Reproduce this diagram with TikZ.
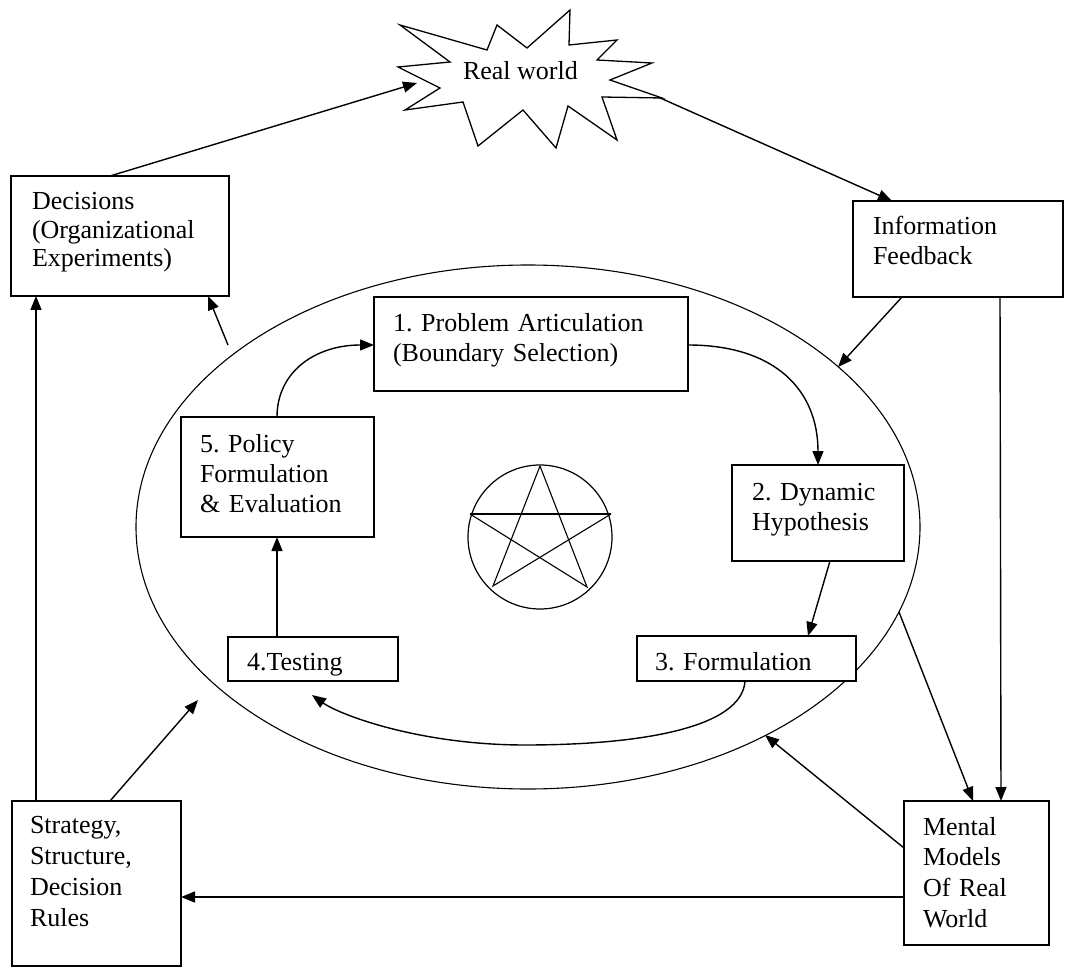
\documentclass[tikz,border=0pt]{standalone}
\usepackage{fontspec}
\setmainfont{Liberation Serif}
\usetikzlibrary{arrows.meta,calc}

\begin{document}
\frenchspacing
\begin{tikzpicture}[x=1pt,y=-1pt,
  box/.style={draw, line width=2pt, fill=white, inner sep=0pt, outer sep=0pt, anchor=north west},
  lbl/.style={inner sep=0pt, outer sep=0pt, anchor=base west, align=left, text width=230pt,
              font=\fontsize{26}{30}\selectfont},
  conn/.style={line width=1.4pt, -{Triangle[length=14pt,width=11pt]}},
  link/.style={line width=1.4pt}]
\useasboundingbox (0,0) rectangle (1066,968);

% outer ellipse of the modelling cycle
\draw[line width=1.1pt] (528,527) ellipse[x radius=392, y radius=262];

% "Real world" burst
\draw[line width=1.3pt, fill=white]
  (400,25) -- (487,50) -- (497,25) -- (527,48) -- (570,10) -- (569,45) --
  (617,40) -- (597,60) -- (652,63) -- (610,80) -- (662,98) -- (602,97) --
  (617,140) -- (568,106) -- (556,148) -- (523,110) -- (478,146) -- (463,102) --
  (405,110) -- (440,88) -- (398,67) -- (450,62) -- cycle;
\node[lbl, text width=] (real) at (463,80) {Real world};
\coordinate (rwL) at (417,83);
\coordinate (rwR) at (658,97);

% boxes
\node[box, minimum width=218pt, minimum height=120pt] (dec)   at (11,176)  {};
\node[box, minimum width=210pt, minimum height=96pt]  (info)  at (853,201) {};
\node[box, minimum width=314pt, minimum height=94pt]  (prob)  at (374,297) {};
\node[box, minimum width=193pt, minimum height=120pt] (pol)   at (181,417) {};
\node[box, minimum width=172pt, minimum height=96pt]  (dyn)   at (732,465) {};
\node[box, minimum width=170pt, minimum height=44pt]  (test)  at (228,637) {};
\node[box, minimum width=219pt, minimum height=45pt]  (form)  at (637,636) {};
\node[box, minimum width=169pt, minimum height=165pt] (strat) at (12,801)  {};
\node[box, minimum width=145pt, minimum height=144pt] (ment)  at (904,801) {};

% labels
\node[lbl, font=\fontsize{26}{28.5}\selectfont] (decT) at (32,210) {Decisions\\(Organizational\\Experiments)};
\node[lbl] (infoT)  at (873,235) {Information\\Feedback};
\node[lbl, text width=300pt] (probT) at (393,332) {1. Problem Articulation\\(Boundary Selection)};
\node[lbl] (polT)   at (200,452) {5. Policy\\Formulation\\\& Evaluation};
\node[lbl] (dynT)   at (752,500) {2. Dynamic\\Hypothesis};
\node[lbl] (testT)  at (247,670) {4.Testing};
\node[lbl] (formT)  at (655,670) {3. Formulation};
\node[lbl, font=\fontsize{26}{31}\selectfont] (stratT) at (30,833) {Strategy,\\Structure,\\Decision\\Rules};
\node[lbl, font=\fontsize{26}{30.7}\selectfont] (mentT) at (923,835) {Mental\\Models\\Of Real\\World};

% pentagram emblem
\coordinate (pA) at (540,466);
\coordinate (pB) at (611,514);
\coordinate (pC) at (587,587);
\coordinate (pD) at (493,586);
\coordinate (pE) at (470,514);
\draw[line width=1.2pt] (540,537) circle[radius=72];
\draw[line width=1.1pt] (pA) -- (pD) -- (pB);
\draw[line width=1.1pt] (pE) -- (pC) -- (pA);
\draw[line width=2pt] (pE) -- (pB);

% free ends on the ellipse
\coordinate (ellInfo)  at (838,367);
\coordinate (ellMent)  at (899,612);
\coordinate (ellIn)    at (765,735);
\coordinate (ellStrat) at (198,700);
\coordinate (ellDec)   at (228,345);
\coordinate (testIn)   at (312,695);

% outer loop
\draw[conn] ($(dec.north west)+(99,0)$) -- (rwL);
\draw[conn] (rwR) -- ($(info.north west)+(39,0)$);
\draw[conn] ($(info.south west)+(49,0)$) -- (ellInfo);
\draw[conn] ($(info.south west)+(147,0)$) -- ($(ment.north west)+(97,0)$);
\draw[conn] (ellMent) -- ($(ment.north west)+(69,0)$);
\draw[conn] ($(ment.north west)+(0,47)$) -- (ellIn);
\draw[conn] ($(ment.north west)+(0,96)$) -- ($(strat.north east)+(0,96)$);
\draw[conn] ($(strat.north west)+(24,0)$) -- ($(dec.south west)+(25,0)$);
\draw[conn] ($(strat.north west)+(98,0)$) -- (ellStrat);
\draw[conn] (ellDec) -- ($(dec.south west)+(197,0)$);

% inner cycle
\draw[conn] ($(prob.north east)+(0,48)$) .. controls (775,345) and (818,390) .. ($(dyn.north west)+(86,0)$);
\draw[conn] ($(dyn.south west)+(98,0)$) -- ($(form.north west)+(171,0)$);
\draw[conn] ($(form.south west)+(108,0)$) .. controls (742,728) and (640,745) .. (525,745)
            .. controls (420,745) and (340,715) .. (testIn);
\draw[conn] ($(test.north west)+(49,0)$) -- ($(pol.south west)+(96,0)$);
\draw[conn] ($(pol.north west)+(96,0)$) .. controls (277,372) and (315,345) .. ($(prob.north west)+(0,48)$);
\end{tikzpicture}
\end{document}
